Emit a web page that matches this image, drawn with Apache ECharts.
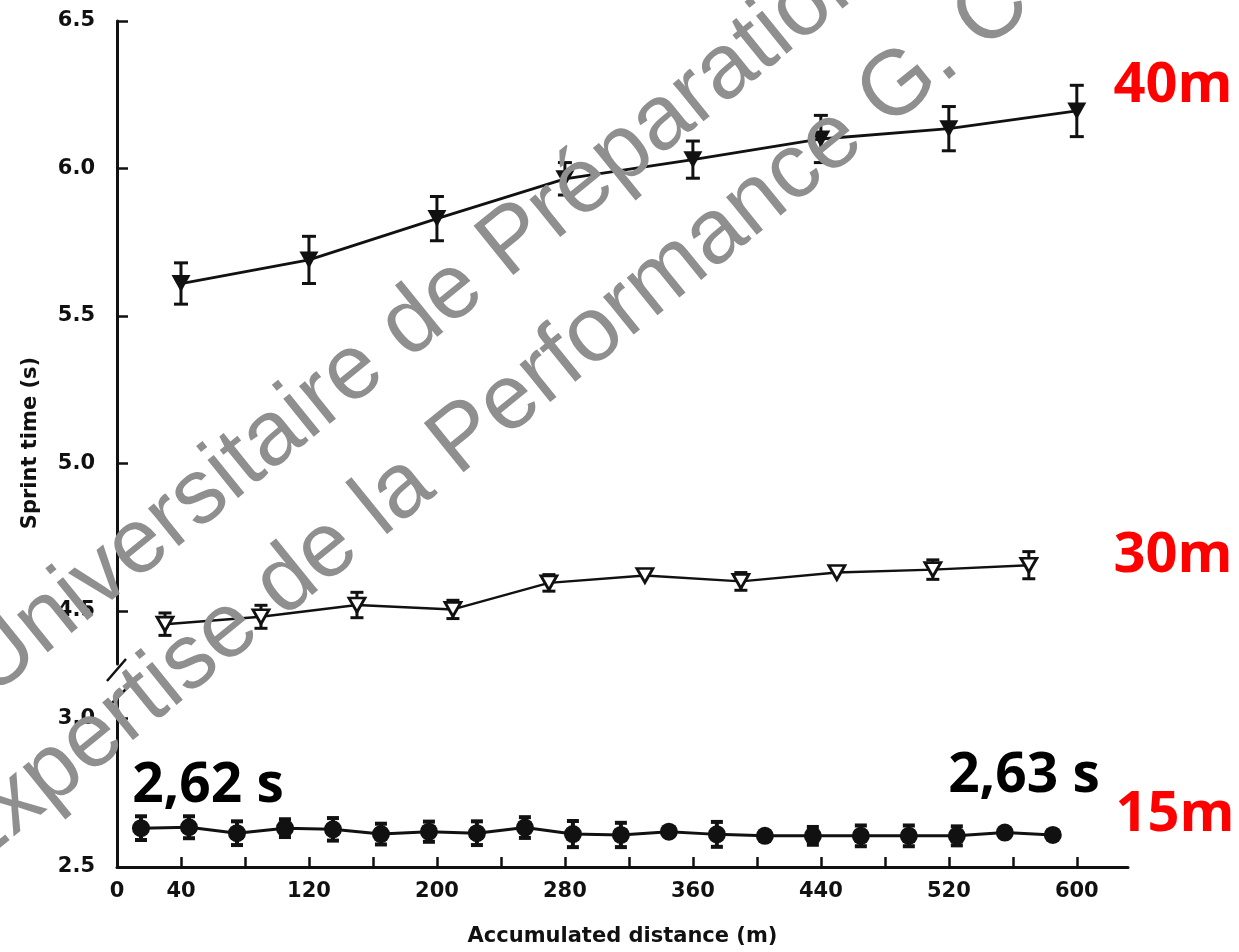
<!DOCTYPE html>
<html><head><meta charset="utf-8">
<script src="https://cdn.jsdelivr.net/npm/echarts@6/dist/echarts.min.js"></script>
<style>html,body{margin:0;padding:0;background:#fff}#c{width:1239px;height:952px}</style>
</head><body><div id="c"></div>
<script>
// ---- data ----
const dist40 = [40, 120, 200, 280, 360, 440, 520, 600];
const time40 = [5.61, 5.69, 5.83, 5.965, 6.03, 6.10, 6.135, 6.195];
const err40  = [0.07, 0.08, 0.075, 0.055, 0.063, 0.08, 0.075, 0.087];

const dist30 = [30, 90, 150, 210, 270, 330, 390, 450, 510, 570];
const time30 = [4.455, 4.48, 4.52, 4.505, 4.595, 4.62, 4.60, 4.63, 4.64, 4.655];
const err30  = [0.038, 0.039, 0.043, 0.031, 0.028, 0, 0.03, 0, 0.033, 0.046];

const dist15 = [15, 45, 75, 105, 135, 165, 195, 225, 255, 285, 315, 345, 375, 405, 435, 465, 495, 525, 555, 585];
const time15 = [2.631, 2.634, 2.614, 2.631, 2.627, 2.611, 2.619, 2.614, 2.633, 2.611, 2.608, 2.619, 2.61, 2.605, 2.605, 2.605, 2.605, 2.605, 2.616, 2.608];
const err15  = [0.04, 0.037, 0.04, 0.03, 0.038, 0.035, 0.034, 0.04, 0.035, 0.044, 0.041, 0, 0.042, 0, 0.03, 0.035, 0.035, 0.032, 0, 0];

const xTickValues  = [40, 80, 120, 160, 200, 240, 280, 320, 360, 400, 440, 480, 520, 560, 600];
const xLabelValues = [0, 40, 120, 200, 280, 360, 440, 520, 600];
const yTopTicks = [4.5, 5.0, 5.5, 6.0, 6.5];
const yBotTicks = [2.5, 3.0];

const seriesLabels = ['40m', '30m', '15m'];
const startLabel = '2,62 s';
const endLabel = '2,63 s';
const xName = 'Accumulated distance (m)';
const yName = 'Sprint time (s)';
const watermark1 = 'Universitaire de Préparation';
const watermark2 = 'Expertise de la Performance G. C';

// ---- chart ----
const X_MIN = 0, X_MAX = 632;
const TOP_MIN = 4.32, TOP_MAX = 6.5, BOT_MIN = 2.5, BOT_MAX = 3.09;
const INK = '#111';
const AX = { color: INK, fontFamily: 'DejaVu Sans', fontWeight: 'bold', fontSize: 21 };

const zip = (a, b) => a.map((v, i) => [v, b[i]]);
const zip3 = (a, b, c) => a.map((v, i) => [v, b[i], c[i]]);

function errRender(capW, lw) {
  return function (params, api) {
    const x = api.value(0), y = api.value(1), e = api.value(2);
    if (!(e > 0)) return null;
    const t = api.coord([x, y + e]), b = api.coord([x, y - e]);
    const style = { stroke: INK, lineWidth: lw };
    return { type: 'group', children: [
      { type: 'line', shape: { x1: t[0], y1: t[1], x2: b[0], y2: b[1] }, style },
      { type: 'line', shape: { x1: t[0] - capW / 2, y1: t[1], x2: t[0] + capW / 2, y2: t[1] }, style },
      { type: 'line', shape: { x1: b[0] - capW / 2, y1: b[1], x2: b[0] + capW / 2, y2: b[1] }, style }
    ]};
  };
}

function yAxisCfg(gi, min, max, ticks) {
  return {
    gridIndex: gi, type: 'value', min, max,
    axisLine: { show: true, onZero: false, lineStyle: { color: INK, width: 3 } },
    axisTick: { show: true, inside: true, length: 11, customValues: ticks, lineStyle: { color: INK, width: 2.5 } },
    axisLabel: { customValues: ticks, formatter: v => Number(v).toFixed(1), margin: 22, ...AX },
    splitLine: { show: false }
  };
}

const chart = echarts.init(document.getElementById('c'));
chart.setOption({
  animation: false,
  backgroundColor: '#fff',
  grid: [
    { left: 117, right: 111, top: 21, height: 643 },
    { left: 117, right: 111, top: 692, height: 175 }
  ],
  xAxis: [
    { gridIndex: 0, type: 'value', min: X_MIN, max: X_MAX, show: false },
    { gridIndex: 1, type: 'value', min: X_MIN, max: X_MAX,
      axisLine: { show: true, onZero: false, lineStyle: { color: INK, width: 3 } },
      axisTick: { show: true, inside: true, length: 10, customValues: xTickValues, lineStyle: { color: INK, width: 2.5 } },
      axisLabel: { customValues: xLabelValues, margin: 14, ...AX },
      splitLine: { show: false },
      name: xName, nameLocation: 'middle', nameGap: 59,
      nameTextStyle: { ...AX, fontSize: 21 } }
  ],
  yAxis: [ yAxisCfg(0, TOP_MIN, TOP_MAX, yTopTicks), yAxisCfg(1, BOT_MIN, BOT_MAX, yBotTicks) ],
  series: [
    { type: 'custom', name: 'err40', xAxisIndex: 0, yAxisIndex: 0, renderItem: errRender(14, 3),
      encode: { x: 0, y: 1 }, data: zip3(dist40, time40, err40), z: 2, silent: true },
    { type: 'line', name: seriesLabels[0], xAxisIndex: 0, yAxisIndex: 0, data: zip(dist40, time40),
      symbol: 'triangle', symbolRotate: 180, symbolSize: [19, 17], showSymbol: true, showAllSymbol: true,
      itemStyle: { color: INK }, lineStyle: { color: INK, width: 2.8 }, z: 3, silent: true },
    { type: 'custom', name: 'err30', xAxisIndex: 0, yAxisIndex: 0, renderItem: errRender(13, 3),
      encode: { x: 0, y: 1 }, data: zip3(dist30, time30, err30), z: 2, silent: true },
    { type: 'line', name: seriesLabels[1], xAxisIndex: 0, yAxisIndex: 0, data: zip(dist30, time30),
      symbol: 'triangle', symbolRotate: 180, symbolSize: [16, 14], showSymbol: true, showAllSymbol: true,
      itemStyle: { color: '#fff', borderColor: INK, borderWidth: 2.8 }, lineStyle: { color: INK, width: 2.4 }, z: 3, silent: true },
    { type: 'custom', name: 'err15', xAxisIndex: 1, yAxisIndex: 1, renderItem: errRender(12, 4),
      encode: { x: 0, y: 1 }, data: zip3(dist15, time15, err15), z: 2, silent: true },
    { type: 'line', name: seriesLabels[2], xAxisIndex: 1, yAxisIndex: 1, data: zip(dist15, time15),
      symbol: 'circle', symbolSize: 18, showSymbol: true, showAllSymbol: true,
      itemStyle: { color: INK }, lineStyle: { color: INK, width: 3 }, z: 3, silent: true }
  ]
});

// axis-break marks and text overlays
const pTop = chart.convertToPixel({ xAxisIndex: 0, yAxisIndex: 0 }, [X_MIN, TOP_MIN]);
const pBot = chart.convertToPixel({ xAxisIndex: 1, yAxisIndex: 1 }, [X_MIN, BOT_MAX]);
const brk = { stroke: INK, lineWidth: 2.5 };
const redFont = 'bold 56px "Open Sans"';
const blackFont = 'bold 55px "Open Sans"';
function txt(text, x, y, font, fill, align, extra) {
  return Object.assign({ type: 'text', z: 50, style: { text, x, y, font, fill,
    textAlign: align || 'center', align: align || 'center', textVerticalAlign: 'middle', verticalAlign: 'middle' } }, extra || {});
}
const wmFont = '92px "Liberation Sans"';
const wmRot = 39 * Math.PI / 180;
chart.setOption({
  graphic: [
    { type: 'line', z: 40, shape: { x1: pTop[0] + 9, y1: pTop[1] - 5, x2: pTop[0] - 10, y2: pTop[1] + 17 }, style: brk },
    { type: 'line', z: 40, shape: { x1: pBot[0] + 11, y1: pBot[1] - 5, x2: pBot[0] - 6, y2: pBot[1] + 12 }, style: brk },
    txt(yName, 0, 0, 'bold 21px "DejaVu Sans"', INK, 'center', { x: 31, y: 443, rotation: Math.PI / 2 }),
    txt(seriesLabels[0], 1173, 86, redFont, '#ff0000'),
    txt(seriesLabels[1], 1173, 556, redFont, '#ff0000'),
    txt(seriesLabels[2], 1175, 815, redFont, '#ff0000'),
    txt(startLabel, 208, 786, blackFont, '#000'),
    txt(endLabel, 1024, 776, blackFont, '#000'),
    { type: 'text', z: 60, x: 4, y: 714, rotation: wmRot,
      style: { text: watermark1, x: 0, y: 0, font: wmFont, fill: '#8f8f8f', textAlign: 'left', align: 'left', textVerticalAlign: 'bottom', verticalAlign: 'bottom' } },
    { type: 'text', z: 60, x: -22, y: 892, rotation: wmRot,
      style: { text: watermark2, x: 0, y: 0, font: wmFont, fill: '#8f8f8f', textAlign: 'left', align: 'left', textVerticalAlign: 'bottom', verticalAlign: 'bottom' } }
  ]
});
</script></body></html>
